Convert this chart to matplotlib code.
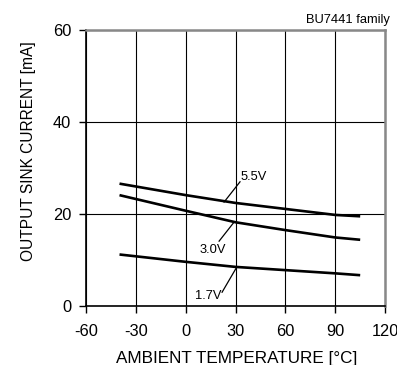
import matplotlib
matplotlib.use("Agg")
import matplotlib.pyplot as plt

plt.rcParams['font.family'] = ['Liberation Sans', 'DejaVu Sans']
plt.rcParams['axes.unicode_minus'] = False

temps = [-40, 0, 30, 60, 90, 105]
i_55 = [26.6, 24.1, 22.4, 21.1, 19.8, 19.5]
i_30 = [24.1, 20.7, 18.2, 16.5, 14.9, 14.4]
i_17 = [11.2, 9.6, 8.5, 7.8, 7.1, 6.7]
xticks = [-60, -30, 0, 30, 60, 90, 120]
yticks = [0, 20, 40, 60]

W, H = 397, 365
fig = plt.figure(figsize=(W / 100, H / 100), dpi=100)
ax = fig.add_axes([0.2174, 0.1616, 0.7526, 0.7562])
ax.set_xlim(-60, 120)
ax.set_ylim(0, 60)
ax.set_xticks(xticks)
ax.set_yticks(yticks)
ax.grid(True, color='black', linewidth=0.8)
ax.set_axisbelow(True)

for ys in (i_55, i_30, i_17):
    ax.plot(temps, ys, color='black', linewidth=1.9, solid_capstyle='butt')

# annotations with leader lines
ax.plot([23, 32.6], [22.6, 27.0], color='black', linewidth=0.9)
ax.text(32.8, 28.0, '5.5V', fontsize=9.3, ha='left', va='center')
ax.plot([28.5, 20], [18.0, 14.1], color='black', linewidth=0.9)
ax.text(16, 12.2, '3.0V', fontsize=9.3, ha='center', va='center')
ax.plot([30.7, 21.8], [8.5, 3.0], color='black', linewidth=0.9)
ax.text(13.4, 2.2, '1.7V', fontsize=9.3, ha='center', va='center')

for s in ('top', 'right'):
    ax.spines[s].set_color('#888888')
    ax.spines[s].set_linewidth(1.8)
for s in ('left', 'bottom'):
    ax.spines[s].set_color('black')
    ax.spines[s].set_linewidth(1.2)

ax.tick_params(direction='out', length=5, width=1, labelsize=11.8)
ax.tick_params(axis='x', pad=8)
ax.tick_params(axis='y', pad=6)
fig.text(236.5 / W, 1 - 359 / H, 'AMBIENT TEMPERATURE [°C]', fontsize=12.3,
         ha='center', va='center')
fig.text(28.5 / W, 1 - 151 / H, 'OUTPUT SINK CURRENT [mA]', fontsize=11.2,
         rotation=90, ha='center', va='center')
fig.text(390 / W, 1 - 20 / H, 'BU7441 family', fontsize=9.3, ha='right', va='center')

fig.savefig('out.png', dpi=100)
